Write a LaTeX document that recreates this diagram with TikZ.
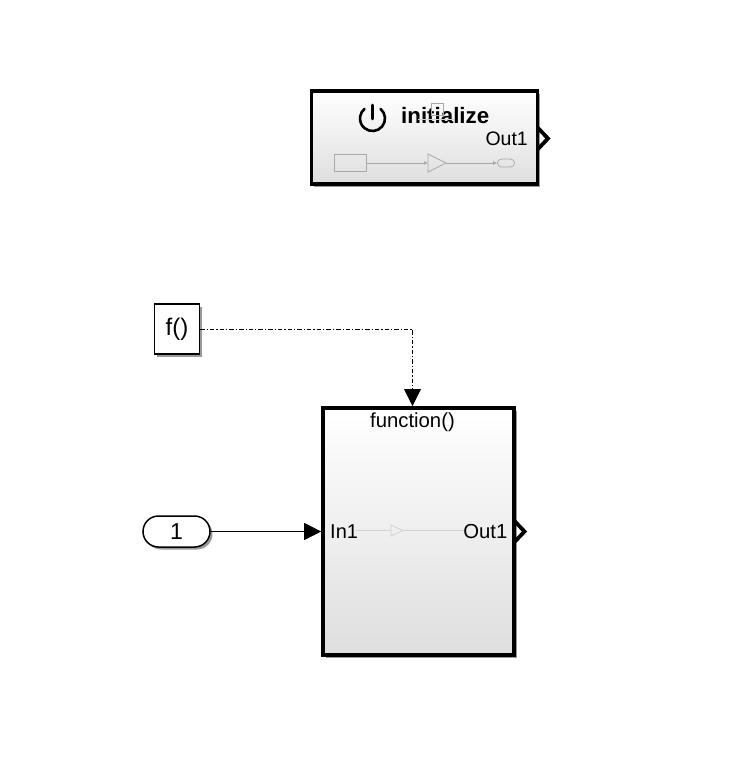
\documentclass[tikz,border=0pt]{standalone}
\usepackage{fontspec}
\setmainfont{Liberation Sans}
\usetikzlibrary{arrows.meta,shapes.misc,shadows}
\definecolor{blockgray}{HTML}{DEDEDE}
\definecolor{blockmid}{HTML}{EFEFEF}
\definecolor{ghost}{HTML}{A8A8A8}
\definecolor{ghostb}{HTML}{D2D2D2}
\pgfdeclareverticalshading{blockgrad}{100bp}{color(0bp)=(blockgray);color(25bp)=(blockgray);color(50bp)=(blockmid);color(75bp)=(white);color(100bp)=(white)}
\newcommand{\fs}[1]{\fontsize{#1}{#1}\selectfont}
\tikzset{
  x=1pt,y=-1pt,
  softshadow/.style={drop shadow={shadow xshift=2.5pt,shadow yshift=-2.5pt,fill=black,opacity=0.4}},
  subsys/.style={draw=black,line width=3.6pt,shading=blockgrad,softshadow,inner sep=0pt},
  plainblock/.style={draw=black,line width=1.5pt,fill=white,softshadow,inner sep=0pt},
  lab/.style={inner sep=0pt,text=black},
  chevron/.style={line width=3.8pt,draw=black,miter limit=10},
  wire/.style={draw=black,line width=1pt},
  bigtip/.style={-{Triangle[length=17pt,width=17pt]}},
  ghostline/.style={draw=ghost,line width=0.7pt},
  ghostline2/.style={draw=ghostb,line width=0.8pt},
}
\begin{document}
\begin{tikzpicture}
\useasboundingbox (0,0) rectangle (752,768);
% top subsystem
\node[subsys,minimum width=226pt,minimum height=93pt] (init) at (424.5,137.5) {};
\draw[chevron] (537.5,127.5) -- (548,138.5) -- (537.5,149.5);
\node[lab,font=\fs{22.3}\bfseries,anchor=base west] (initlabel) at (401,123.5) {initialize};
\node[lab,font=\fs{19.5},anchor=base east] (initout) at (528,145) {Out1};
% power icon
\coordinate (pwr) at (372.5,118.5);
\draw[line width=2.6pt,line cap=round] (pwr) ++(50:12.5pt) arc[start angle=50,end angle=-230,radius=12.5pt];
\coordinate (pwrA) at (372.5,105);
\coordinate (pwrB) at (372.5,119);
\draw[line width=2.6pt,line cap=round] (pwrA) -- (pwrB);
% ghost content of the top subsystem
\node[draw=ghost,line width=0.7pt,minimum width=32pt,minimum height=17pt,inner sep=0pt] (gsrc) at (350,163) {};
\coordinate (gtri1) at (428,154);
\coordinate (gtri2) at (428,172);
\coordinate (gtri3) at (446,163);
\draw[ghostline] (gtri1) -- (gtri3) -- (gtri2) -- cycle;
\node[draw=ghost,line width=0.7pt,rounded rectangle,minimum width=17pt,minimum height=8pt,inner sep=0pt] (gout) at (506,163) {};
\draw[ghostline,-{Latex[length=4pt,width=4pt]}] (gsrc.east) -- (gtri1|-gsrc.east);
\draw[ghostline,-{Latex[length=4pt,width=4pt]}] (gtri3) -- (gout.west);
\node[draw=ghost,line width=0.7pt,minimum width=12pt,minimum height=12pt,inner sep=0pt] (gsmall) at (437,109) {};
\draw[ghostline2] (418,119) -- (454,119);
% f() block
\node[plainblock,minimum width=45pt,minimum height=50pt,font=\fs{24}] (fcn) at (177,329) {f()};
% function subsystem
\node[subsys,minimum width=191pt,minimum height=247pt] (func) at (418.5,531.5) {};
\node[lab,font=\fs{20.3}] (funclabel) at (412.5,422) {function()};
\node[lab,font=\fs{20},anchor=west] (inlab) at (330,531.5) {In1};
\node[lab,font=\fs{20.3},anchor=east] (outlab) at (507.5,531.5) {Out1};
\draw[chevron] (514,520.5) -- (524.5,531.5) -- (514,542.5);
% ghost content of function subsystem
\coordinate (ft1) at (391,525);
\coordinate (ft2) at (391,536);
\coordinate (ft3) at (403,530.5);
\draw[ghostline2] (ft1) -- (ft3) -- (ft2) -- cycle;
\draw[ghostline2] (356,530.5) -- (ft1|-ft3);
\draw[ghostline2] (ft3) -- (464,530.5);
% constant input
\node[draw=black,line width=1.5pt,fill=white,softshadow,rounded rectangle,minimum width=67pt,minimum height=31pt,inner sep=0pt,font=\fs{23}] (one) at (176.5,531.5) {1};
% connectors
\coordinate (trig) at (412.5,406);
\draw[wire,bigtip,dash pattern=on 4.5pt off 2pt on 1.2pt off 2pt,line width=0.9pt] (fcn.east) -| (trig);
\draw[wire,bigtip] (one.east) -- (func.west);
\end{tikzpicture}
\end{document}
